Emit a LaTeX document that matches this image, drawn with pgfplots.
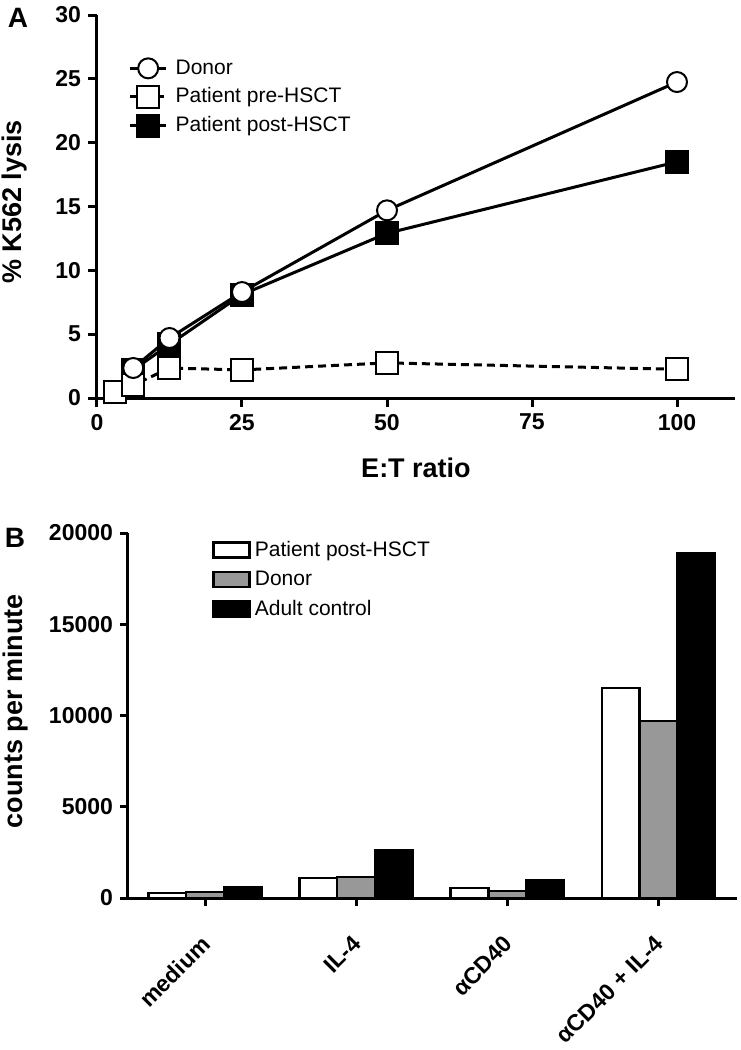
\documentclass[border=0pt]{standalone}
\usepackage{fontspec}
\setmainfont{Liberation Sans}
\usepackage{pgfplots}
\pgfplotsset{compat=1.18}
\definecolor{bargray}{RGB}{152,152,152}
\begin{document}
\begin{tikzpicture}
\useasboundingbox (0,0) rectangle (370pt,-525pt);
\node[font=\fontsize{14}{14}\selectfont\bfseries] at (9pt,-8.75pt) {A};
\node[font=\fontsize{14}{14}\selectfont\bfseries] at (7.5pt,-269pt) {B};
% ---------------- Panel A ----------------
\begin{axis}[
  at={(48.5pt,-199pt)}, anchor=south west,
  scale only axis, width=319pt, height=191.5pt,
  xmin=0, xmax=110, ymin=0, ymax=30,
  axis lines=left, axis line style={-, line width=1.5pt},
  clip=false,
  tick align=outside, major tick length=4.5pt,
  every tick/.style={line width=1.5pt, black},
  xtick={0,25,50,75,100}, ytick={0,5,...,30},
  /pgf/number format/assume math mode=true,
  tick label style={font=\fontsize{11.5}{12}\selectfont\bfseries},
  xlabel={E:T ratio}, ylabel={\% K562 lysis},
  every axis x label/.style={at={(axis description cs:0.5,-0.183)}, anchor=center, font=\fontsize{13.5}{14}\selectfont\bfseries},
  every axis y label/.style={at={(axis description cs:-0.130,0.512)}, rotate=90, anchor=center, font=\fontsize{13.5}{14}\selectfont\bfseries},
  legend style={draw=none, fill=none, at={(axis description cs:0.049,0.895)}, anchor=north west,
    font=\fontsize{10.5}{11}\selectfont, row sep=1.3pt, column sep=2pt, inner sep=0pt},
  legend cell align=left,
  legend image code/.code={\draw[mark repeat=2, mark phase=2, #1] plot coordinates {(0pt,0pt) (9pt,0pt) (18pt,0pt)};},
]
\addlegendimage{black, line width=1.5pt, mark=*, mark size=5pt, mark options={solid, fill=white, draw=black, line width=1pt}}
\addlegendentry{Donor}
\addlegendimage{black, line width=1.5pt, dash pattern=on 4pt off 2.5pt, mark=square*, mark size=5.5pt, mark options={solid, fill=white, draw=black, line width=1pt}}
\addlegendentry{Patient pre-HSCT}
\addlegendimage{black, line width=1.5pt, mark=square*, mark size=5.5pt, mark options={solid, fill=black, draw=black, line width=1pt}}
\addlegendentry{Patient post-HSCT}
% post-HSCT
\addplot[forget plot, black, line width=1.5pt, mark=square*, mark size=5.5pt, mark options={solid, fill=black, draw=black, line width=1pt}]
  coordinates {(6.25,2.2) (12.5,4.2) (25,8.1) (50,12.9) (100,18.5)};
% pre-HSCT
\addplot[forget plot, black, line width=1.5pt, dash pattern=on 4pt off 2.5pt, mark=square*, mark size=5.5pt, mark options={solid, fill=white, draw=black, line width=1pt}]
  coordinates {(3.125,0.5) (6.25,1.0) (12.5,2.35) (25,2.2) (50,2.75) (100,2.25)};
% Donor
\addplot[forget plot, black, line width=1.5pt, mark=*, mark size=5pt, mark options={solid, fill=white, draw=black, line width=1pt}]
  coordinates {(6.25,2.35) (12.5,4.7) (25,8.3) (50,14.7) (100,24.75)};
\end{axis}
% ---------------- Panel B ----------------
\begin{axis}[
  at={(64pt,-449pt)}, anchor=south west,
  scale only axis, width=304.5pt, height=182.5pt,
  xmin=-0.51, xmax=3.52, ymin=0, ymax=20000,
  axis lines=left, axis line style={-, line width=1.5pt},
  clip=false,
  tick align=outside, major tick length=4pt,
  every tick/.style={line width=1.5pt, black},
  xtick={0,1,2,3},
  xticklabels={medium, IL-4, αCD40, αCD40 + IL-4},
  ytick={0,5000,10000,15000,20000},
  scaled y ticks=false,
  /pgf/number format/set thousands separator={},
  /pgf/number format/assume math mode=true,
  tick label style={font=\fontsize{11.5}{12}\selectfont\bfseries},
  xticklabel style={yshift=-12.5pt, xshift=-2.5pt, rotate=45, anchor=north east, inner sep=1pt},
  ylabel={counts per minute},
  every axis y label/.style={at={(axis description cs:-0.184,0.512)}, rotate=90, anchor=center, font=\fontsize{13.5}{14}\selectfont\bfseries},
  legend style={draw=none, fill=none, at={(axis description cs:0.138,0.99)}, anchor=north west,
    font=\fontsize{10.5}{11}\selectfont, row sep=1.8pt, inner sep=0pt},
  legend cell align=left,
  legend image code/.code={\draw[#1] (0pt,-3.75pt) rectangle (18pt,3.75pt);},
]
\addplot[ybar, bar width=0.25, bar shift=-0.25, fill=white, draw=black, line width=1.2pt]
  coordinates {(0,280) (1,1100) (2,550) (3,11520)};
\addlegendentry{Patient post-HSCT}
\addplot[ybar, bar width=0.25, bar shift=0, fill=bargray, draw=black, line width=1.2pt]
  coordinates {(0,330) (1,1150) (2,390) (3,9700)};
\addlegendentry{Donor}
\addplot[ybar, bar width=0.25, bar shift=0.25, fill=black, draw=black, line width=1.2pt]
  coordinates {(0,600) (1,2630) (2,990) (3,18900)};
\addlegendentry{Adult control}
\end{axis}
\end{tikzpicture}
\end{document}
